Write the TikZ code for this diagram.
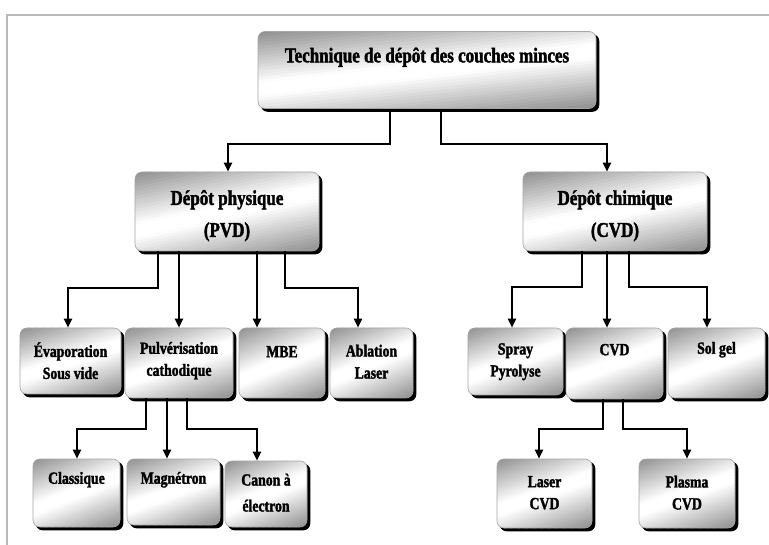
\documentclass[tikz,border=0pt]{standalone}
\usepackage{fontspec}
\setmainfont[FakeStretch=0.81,FakeBold=1.8]{Liberation Serif}
\usetikzlibrary{arrows.meta,calc,backgrounds}
\newcommand\mygradstrips{%
  \foreach \k in {0,...,39}{%
    \pgfmathsetmacro\ta{-0.3+1.6*\k/40}%
    \pgfmathsetmacro\tb{-0.3+1.6*(\k+1)/40+0.012}%
    \pgfmathsetmacro\tm{-0.3+1.6*(\k+0.5)/40}%
    \pgfmathsetmacro\cc{44*min(1,max(0,abs(\tm-0.5)-0.08)/0.67)}%
    \fill[black!\cc!white] let \p1=(path picture bounding box.north west),
        \p2=(path picture bounding box.south east) in
      ({\x1-0.1*(\x2-\x1)},{\y1-(\ta+0.30)*(\y1-\y2)}) -- ({\x2+0.1*(\x2-\x1)},{\y1-(\ta-0.30)*(\y1-\y2)})
      -- ({\x2+0.1*(\x2-\x1)},{\y1-(\tb-0.30)*(\y1-\y2)}) -- ({\x1-0.1*(\x2-\x1)},{\y1-(\tb+0.30)*(\y1-\y2)}) -- cycle;
  }%
}
\tikzset{
  box/.style={rectangle, rounded corners=7pt, draw=gray!70, line width=0.6pt,
    inner sep=0pt, path picture={\mygradstrips}},
  shadowbox/.style={fill=black, rounded corners=7pt},
  bigtxt/.style={font=\fontsize{21}{32}\selectfont\bfseries, align=center, inner sep=0pt},
  smtxt/.style={font=\fontsize{17}{22}\selectfont\bfseries, align=center, inner sep=0pt},
  arr/.style={line width=2pt, -{Triangle[length=9pt,width=8pt]}},
  frame/.style={gray!55, line width=2pt}
}
\begin{document}
\begin{tikzpicture}[x=1pt,y=-1pt]
\useasboundingbox (0,0) rectangle (769,545);

% boxes
\node[box, minimum width=338pt, minimum height=77pt] (top) at (427,70) {};
\node[box, minimum width=184pt, minimum height=79pt] (pvd) at (227,211.5) {};
\node[box, minimum width=184pt, minimum height=79pt] (cvd) at (615,211.5) {};
\node[box, minimum width=101pt, minimum height=66pt] (evap) at (70.5,361) {};
\node[box, minimum width=108pt, minimum height=70pt] (pulv) at (179,363) {};
\node[box, minimum width=86pt, minimum height=70pt] (mbe) at (282,363) {};
\node[box, minimum width=83pt, minimum height=70pt] (abl) at (371.5,363) {};
\node[box, minimum width=95pt, minimum height=67pt] (spray) at (515.5,361.5) {};
\node[box, minimum width=97pt, minimum height=71pt] (cvdb) at (614.5,363.5) {};
\node[box, minimum width=97pt, minimum height=70pt] (sol) at (716.5,363) {};
\node[box, minimum width=87pt, minimum height=68pt] (cla) at (76.5,493) {};
\node[box, minimum width=93pt, minimum height=66pt] (mag) at (173.5,492) {};
\node[box, minimum width=82pt, minimum height=66pt] (can) at (266,494) {};
\node[box, minimum width=95pt, minimum height=69pt] (las) at (544.5,493.5) {};
\node[box, minimum width=96pt, minimum height=69pt] (pla) at (687,493.5) {};

\begin{scope}[on background layer]
\fill[white] (0,0) rectangle (769,545);
\foreach \n in {top,pvd,cvd,evap,pulv,mbe,abl,spray,cvdb,sol,cla,mag,can,las,pla}
  \fill[shadowbox] ([shift={(3pt,-3pt)}]\n.south west) rectangle ([shift={(3pt,-3pt)}]\n.north east);
\end{scope}

\coordinate (fa) at (7,545);
\coordinate (fb) at (7,15);
\coordinate (fc) at (769,15);
\draw[frame] (fa) -- (fb) -- (fc);

% labels
\node[bigtxt] (topT) at ($(top.north)+(0,26)$) {Technique de dépôt des couches minces};
\node[bigtxt] (pvdT) at ($(pvd.north)+(0,44)$) {Dépôt physique\\(PVD)};
\node[bigtxt] (cvdT) at ($(cvd.north)+(0,44)$) {Dépôt chimique\\(CVD)};
\node[smtxt] (evapT) at ($(evap.north)+(0,33)$) {Évaporation\\Sous vide};
\node[smtxt] (pulvT) at ($(pulv.north)+(0,33)$) {Pulvérisation\\cathodique};
\node[smtxt] (mbeT) at ($(mbe.north)+(0,24)$) {MBE};
\node[smtxt] (ablT) at ($(abl.north)+(0,34)$) {Ablation\\Laser};
\node[smtxt] (sprayT) at ($(spray.north)+(0,34)$) {Spray\\Pyrolyse};
\node[smtxt] (cvdbT) at ($(cvdb.north)+(0,22)$) {CVD};
\node[smtxt] (solT) at ($(sol.north)+(0,22)$) {Sol gel};
\node[smtxt] (claT) at ($(cla.north)+(0,21)$) {Classique};
\node[smtxt] (magT) at ($(mag.north)+(0,21)$) {Magnétron};
\node[smtxt, font=\fontsize{17}{26}\selectfont\bfseries] (canT) at ($(can.north)+(0,32)$) {Canon à\\électron};
\node[smtxt] (lasT) at ($(las.north)+(0,34)$) {Laser\\CVD};
\node[smtxt] (plaT) at ($(pla.north)+(0,34)$) {Plasma\\CVD};

% connectors
\draw[arr] ([xshift=-37pt]top.south) -- ++(0,35) -| ([xshift=1pt]pvd.north);
\draw[arr] ([xshift=14pt]top.south) -- ++(0,35) -| ([xshift=-8pt]cvd.north);

\draw[arr] ([xshift=-69pt]pvd.south) -- ++(0,37) -| ([xshift=-2.5pt]evap.north);
\draw[arr] ([xshift=-48pt]pvd.south) -- ([xshift=0pt]pulv.north);
\draw[arr] ([xshift=30pt]pvd.south) -- ([xshift=-25pt]mbe.north);
\draw[arr] ([xshift=58pt]pvd.south) -- ++(0,37) -| ([xshift=-13.5pt]abl.north);

\draw[arr] ([xshift=-33pt]cvd.south) -- ++(0,36) -| ([xshift=-3.5pt]spray.north);
\draw[arr] ([xshift=-8pt]cvd.south) -- ([xshift=-7.5pt]cvdb.north);
\draw[arr] ([xshift=14pt]cvd.south) -- ++(0,36) -| ([xshift=-9.5pt]sol.north);

\draw[arr] ([xshift=-33pt]pulv.south) -- ++(0,31) -| ([xshift=0.5pt]cla.north);
\draw[arr] ([xshift=-12pt]pulv.south) -- ([xshift=-6.5pt]mag.north);
\draw[arr] ([xshift=8pt]pulv.south) -- ++(0,31) -| ([xshift=-9pt]can.north);

\draw[arr] ([xshift=-11.5pt]cvdb.south) -- ++(0,30) -| ([xshift=-5.5pt]las.north);
\draw[arr] ([xshift=8.5pt]cvdb.south) -- ++(0,30) -| ([xshift=0pt]pla.north);
\end{tikzpicture}
\end{document}
